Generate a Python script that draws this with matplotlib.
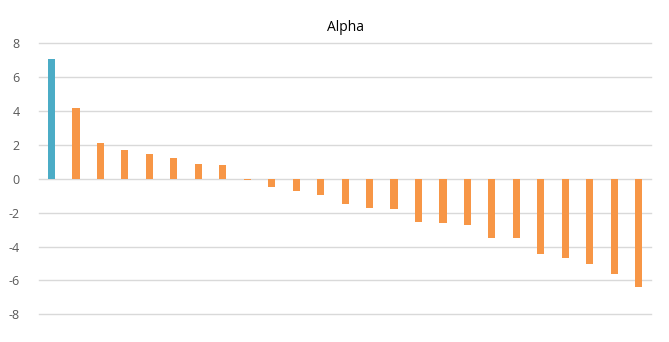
import matplotlib
matplotlib.use('Agg')
import matplotlib.pyplot as plt
import numpy as np

# alpha values, sorted descending
alpha = [7.07, 4.17, 2.09, 1.68, 1.44, 1.26, 0.85, 0.79, -0.08, -0.48,
         -0.73, -0.97, -1.49, -1.73, -1.79, -2.55, -2.61, -2.73, -3.50,
         -3.50, -4.44, -4.68, -5.03, -5.62, -6.39]
colors = ['#4BACC6'] + ['#F79646'] * (len(alpha) - 1)
yticks = [-8, -6, -4, -2, 0, 2, 4, 6, 8]

plt.rcParams['font.family'] = ['Open Sans', 'DejaVu Sans']
plt.rcParams['axes.unicode_minus'] = False

fig = plt.figure(figsize=(6.69, 3.42), dpi=100)
ax = fig.add_axes([0.0587, 0.081, 0.9143, 0.792])

x = np.arange(len(alpha))
ax.bar(x, alpha, width=0.29, color=colors, zorder=3)

ax.set_xlim(-0.5, len(alpha) - 0.5)
ax.set_ylim(-8, 8)
ax.set_yticks(yticks)
ax.set_xticks([])
ax.tick_params(axis='y', length=0, pad=14, labelsize=9, labelcolor='#595959')
for yv in yticks:
    ax.axhline(yv, color='#D9D9D9', linewidth=1, zorder=0, clip_on=False)
for s in ax.spines.values():
    s.set_visible(False)

ax.set_title('Alpha', fontsize=10, color='#000000', pad=9)

fig.savefig('out.png', dpi=100)
